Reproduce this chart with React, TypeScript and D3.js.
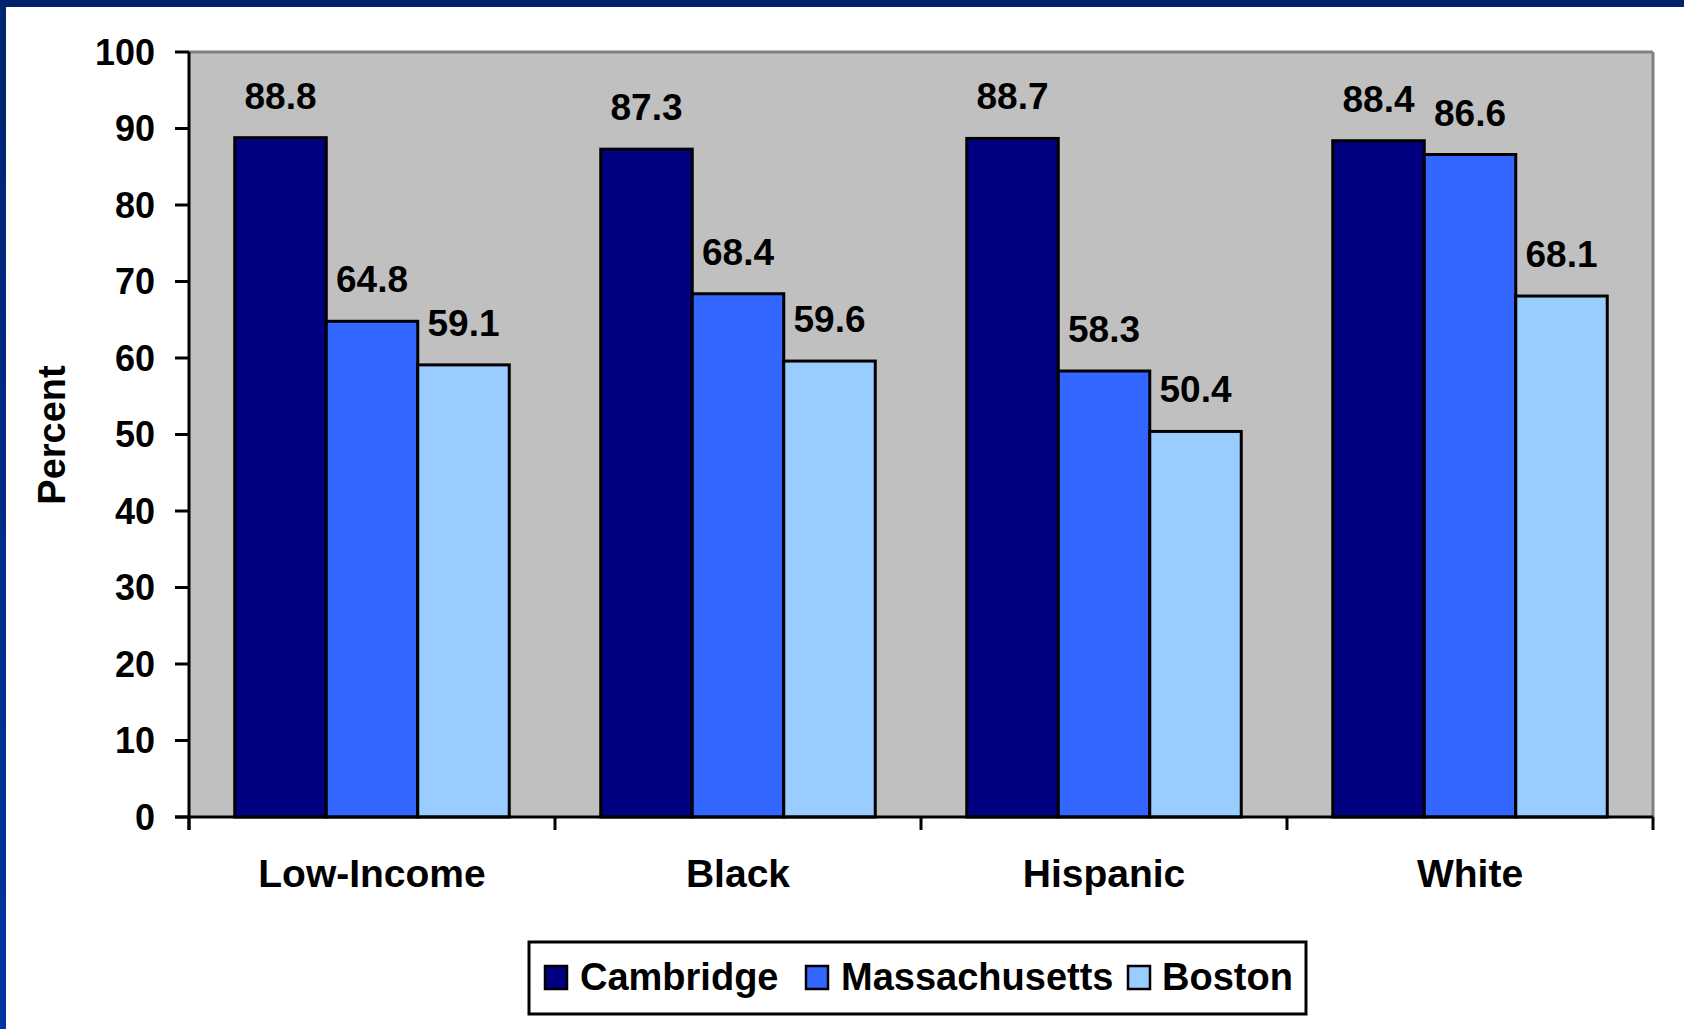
import React from "react";
import * as d3 from "d3";

const categories = ["Low-Income", "Black", "Hispanic", "White"];
const seriesNames = ["Cambridge", "Massachusetts", "Boston"];
const cambridge = [88.8, 87.3, 88.7, 88.4];
const massachusetts = [64.8, 68.4, 58.3, 86.6];
const boston = [59.1, 59.6, 50.4, 68.1];
const seriesColors = ["#000080", "#3366FF", "#99CCFF"];
const yTicks = [0, 10, 20, 30, 40, 50, 60, 70, 80, 90, 100];

const W = 1684;
const H = 1029;
const plot = { left: 189, right: 1653, top: 52, bottom: 817 };
const FONT = "'Liberation Sans', Arial, Helvetica, sans-serif";

export default function App() {
  const values = [cambridge, massachusetts, boston];

  const x0 = d3
    .scaleBand<string>()
    .domain(categories)
    .range([plot.left, plot.right])
    .paddingInner(0)
    .paddingOuter(0);
  const x1 = d3
    .scaleBand<string>()
    .domain(seriesNames)
    .range([0, x0.bandwidth()])
    .paddingInner(0)
    .paddingOuter(0.5);
  const y = d3.scaleLinear().domain([0, 100]).range([plot.bottom, plot.top]);

  const legendItems = [
    { swatch: 545, text: 580 },
    { swatch: 806, text: 841 },
    { swatch: 1128, text: 1162 },
  ];

  return (
    <svg
      width={W}
      height={H}
      viewBox={`0 0 ${W} ${H}`}
      style={{ position: "absolute", left: 0, top: 0, display: "block", background: "#ffffff" }}
      fontFamily={FONT}
    >
      <defs>
        <linearGradient id="sideBand" x1="0" y1="0" x2="0" y2="1">
          <stop offset="0" stopColor="#00246e" />
          <stop offset="1" stopColor="#0034a3" />
        </linearGradient>
      </defs>
      <rect x={0} y={0} width={W} height={H} fill="#ffffff" />
      {/* slide frame */}
      <rect x={0} y={0} width={6} height={H} fill="url(#sideBand)" />
      <rect x={0} y={0} width={W} height={7} fill="#00226a" />

      {/* plot area */}
      <rect
        x={plot.left}
        y={plot.top}
        width={plot.right - plot.left}
        height={plot.bottom - plot.top}
        fill="#C0C0C0"
      />
      <line x1={plot.left} x2={plot.right} y1={plot.top} y2={plot.top} stroke="#808080" strokeWidth={3} />
      <line x1={plot.right} x2={plot.right} y1={plot.top} y2={plot.bottom} stroke="#808080" strokeWidth={3} />

      {/* bars */}
      {categories.map((c, ci) => (
        <g key={c} transform={`translate(${x0(c)},0)`}>
          {seriesNames.map((s, si) => {
            const v = values[si][ci];
            return (
              <rect
                key={s}
                x={x1(s)}
                y={y(v)}
                width={x1.bandwidth()}
                height={y(0) - y(v)}
                fill={seriesColors[si]}
                stroke="#000000"
                strokeWidth={3}
              />
            );
          })}
          {seriesNames.map((s, si) => {
            const v = values[si][ci];
            return (
              <text
                key={s + "-label"}
                x={(x1(s) as number) + x1.bandwidth() / 2}
                y={y(v) - 29}
                textAnchor="middle"
                fontSize={37}
                fontWeight="bold"
                fill="#000000"
              >
                {v.toFixed(1)}
              </text>
            );
          })}
        </g>
      ))}

      {/* y axis */}
      <line x1={plot.left} x2={plot.left} y1={plot.top} y2={plot.bottom + 13} stroke="#000000" strokeWidth={3} />
      {yTicks.map((t) => (
        <g key={t}>
          <line x1={plot.left - 14} x2={plot.left} y1={y(t)} y2={y(t)} stroke="#000000" strokeWidth={3} />
          <text
            x={155}
            y={y(t)}
            dy="0.36em"
            textAnchor="end"
            fontSize={36}
            fontWeight="bold"
            fill="#000000"
          >
            {t}
          </text>
        </g>
      ))}
      <text
        transform={`translate(51,435) rotate(-90)`}
        dy="0.36em"
        textAnchor="middle"
        fontSize={38}
        fontWeight="bold"
        fill="#000000"
      >
        Percent
      </text>

      {/* x axis */}
      <line x1={plot.left - 14} x2={plot.right} y1={plot.bottom} y2={plot.bottom} stroke="#000000" strokeWidth={3} />
      {[...categories.map((c) => x0(c) as number), plot.right].map((bx, i) => (
        <line key={i} x1={bx} x2={bx} y1={plot.bottom} y2={plot.bottom + 13} stroke="#000000" strokeWidth={3} />
      ))}
      {categories.map((c) => (
        <text
          key={c}
          x={(x0(c) as number) + x0.bandwidth() / 2}
          y={887}
          textAnchor="middle"
          fontSize={39}
          fontWeight="bold"
          fill="#000000"
        >
          {c}
        </text>
      ))}

      {/* legend */}
      <rect x={529} y={942} width={777} height={72} fill="#ffffff" stroke="#000000" strokeWidth={3} />
      {seriesNames.map((s, si) => (
        <g key={s}>
          <rect
            x={legendItems[si].swatch}
            y={966}
            width={22}
            height={23}
            fill={seriesColors[si]}
            stroke="#000000"
            strokeWidth={2.5}
          />
          <text x={legendItems[si].text} y={990} fontSize={38} fontWeight="bold" fill="#000000">
            {s}
          </text>
        </g>
      ))}
    </svg>
  );
}
